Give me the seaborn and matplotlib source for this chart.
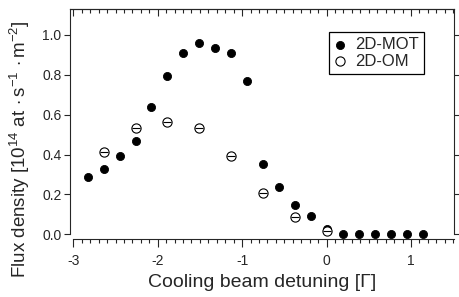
import pandas as pd
import matplotlib
matplotlib.use('Agg')
import matplotlib.pyplot as plt
from matplotlib.ticker import MultipleLocator, NullFormatter
import seaborn as sns

# Dados
detuning_mot = [-2.83, -2.64, -2.45, -2.26, -2.08, -1.89, -1.70, -1.51, -1.32, -1.13, -0.94,
                -0.75, -0.56, -0.37, -0.18, 0.00, 0.19, 0.38, 0.57, 0.76, 0.95, 1.14]
flux_mot = [0.288, 0.326, 0.391, 0.468, 0.637, 0.793, 0.910, 0.961, 0.936, 0.910, 0.768,
            0.353, 0.236, 0.145, 0.092, 0.028, 0.002, 0.002, 0.002, 0.002, 0.002, 0.002]
detuning_om = [-2.64, -2.26, -1.89, -1.51, -1.13, -0.75, -0.37, 0.00]
flux_om = [0.411, 0.533, 0.565, 0.534, 0.394, 0.207, 0.087, 0.018]

df_mot = pd.DataFrame({'detuning': detuning_mot, 'flux': flux_mot})
df_om = pd.DataFrame({'detuning': detuning_om, 'flux': flux_om})

sns.set_style('ticks')
plt.rcParams['font.family'] = ['Liberation Sans', 'DejaVu Sans']
plt.rcParams['mathtext.fontset'] = 'custom'
plt.rcParams['mathtext.rm'] = 'Liberation Sans'
plt.rcParams['mathtext.it'] = 'Liberation Sans'
plt.rcParams['axes.unicode_minus'] = False

fig = plt.figure(figsize=(4.6, 2.97), dpi=100)
ax = fig.add_axes([0.152, 0.195, 0.835, 0.775])

sns.scatterplot(data=df_mot, x='detuning', y='flux', ax=ax, color='black', s=34,
                edgecolor='black', linewidth=0.6, label='2D-MOT', zorder=3)
sns.scatterplot(data=df_om, x='detuning', y='flux', ax=ax, marker='o', s=44,
                facecolor='white', edgecolor='black', linewidth=0.8, label='2D-OM', zorder=4)
# barra horizontal dentro dos círculos abertos
ax.scatter(df_om['detuning'], df_om['flux'], marker='_', s=40, color='black',
           linewidth=0.8, zorder=5)

ax.set_xlim(-3.04, 1.51)
ax.set_ylim(-0.024, 1.13)

ax.spines['left'].set_bounds(0, 1.13)
ax.spines['right'].set_bounds(0, 1.13)
ax.spines['bottom'].set_bounds(-3, 1.51)
for sp in ax.spines.values():
    sp.set_linewidth(0.8)

ax.xaxis.set_major_locator(MultipleLocator(1))
ax.xaxis.set_minor_locator(MultipleLocator(0.1))
ax.yaxis.set_major_locator(MultipleLocator(0.2))
ax.yaxis.set_major_formatter(plt.FormatStrFormatter('%.1f'))
ax.tick_params(axis='x', which='major', direction='out', length=6, width=0.8, labelsize=10, pad=5)
ax.tick_params(axis='x', which='minor', direction='out', length=3, width=0.8)
ax.tick_params(axis='y', which='major', direction='out', length=4, width=0.8, labelsize=10,
               right=True, pad=2)

top = ax.secondary_xaxis('top')
top.xaxis.set_major_locator(MultipleLocator(1))
top.xaxis.set_minor_locator(MultipleLocator(0.1))
top.xaxis.set_major_formatter(NullFormatter())
top.tick_params(which='major', direction='in', length=5, width=0.8)
top.tick_params(which='minor', direction='in', length=3, width=0.8)
top.spines['top'].set_linewidth(0.8)

ax.set_xlabel('Cooling beam detuning [Γ]', fontsize=14, labelpad=4)
ax.set_ylabel(r'Flux density [10$^{14}$ at$\,\cdot$s$^{-1}\,\cdot$m$^{-2}$]', fontsize=13.5)
ax.yaxis.set_label_coords(-0.098, 0.39)

leg = ax.legend(loc='upper right', bbox_to_anchor=(0.922, 0.9), fontsize=12, frameon=True,
                fancybox=False, edgecolor='black', framealpha=1, handlelength=0.8,
                handletextpad=0.5, borderpad=0.3, labelspacing=0.1, borderaxespad=0)
leg.get_frame().set_linewidth(0.9)

fig.savefig('out.png', dpi=100)
